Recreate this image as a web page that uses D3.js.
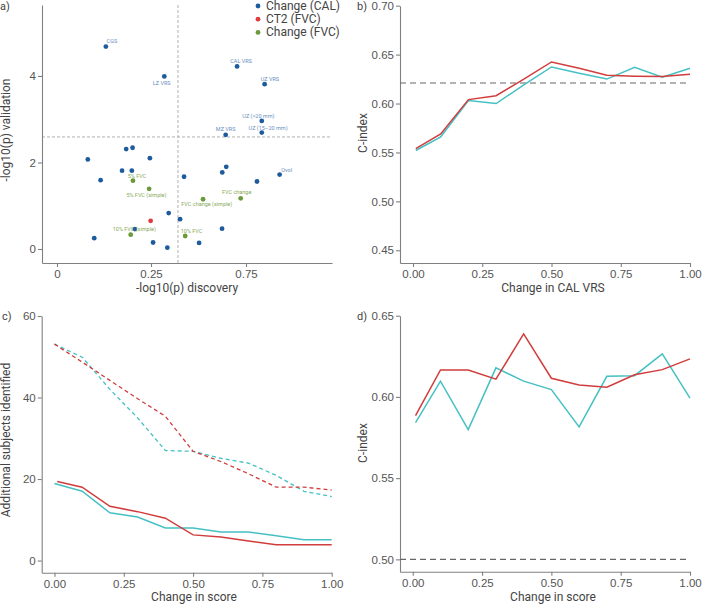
<!DOCTYPE html>
<html><head><meta charset="utf-8">
<script src="https://cdn.jsdelivr.net/npm/d3@7"></script>
<style>
body{margin:0;background:#fff;}
svg{font-family:Roboto,"Noto Sans",sans-serif;}
</style></head><body>
<svg id="chart" width="702" height="604"></svg>
<script>
// ---------- DATA ----------
// Panel a: scatter of -log10(p) discovery vs validation
const legendGroups = ["Change (CAL)", "CT2 (FVC)", "Change (FVC)"];
const calX = [0.130, 0.320, 0.703, 0.848, 0.833, 0.833, 0.643,
  0.082, 0.184, 0.201, 0.247, 0.173, 0.199, 0.116, 0.424, 0.646, 0.625, 0.808, 0.927,
  0.343, 0.403, 0.207, 0.099, 0.261, 0.336, 0.624, 0.503];
const calY = [4.68, 3.99, 4.22, 3.81, 2.96, 2.69, 2.64,
  2.07, 2.31, 2.34, 2.10, 1.81, 1.81, 1.59, 1.67, 1.90, 1.77, 1.56, 1.72,
  0.83, 0.69, 0.46, 0.25, 0.15, 0.03, 0.47, 0.14];
const calLabel = ["CGS", "LZ VRS", "CAL VRS", "UZ VRS", "UZ (>20 mm)", "UZ (15–20 mm)", "MZ VRS",
  "", "", "", "", "", "", "", "", "", "", "", "Ovol",
  "", "", "", "", "", "", "", ""];
const ct2X = [0.249];
const ct2Y = [0.65];
const fvcX = [0.202, 0.245, 0.196, 0.722, 0.524, 0.430];
const fvcY = [1.58, 1.39, 0.33, 1.17, 1.15, 0.30];
const fvcLabel = ["5% FVC", "5% FVC (simple)", "10% FVC (simple)", "FVC change", "FVC change (simple)", "10% FVC"];
const aThresholdX = 0.392;
const aThresholdY = 2.59;
const aXTicks = [0, 0.25, 0.75];
const aXTickLabels = ["0", "0.25", "0.75"];
const aYTicks = [0, 2, 4];

// Panel b
const bX = [0.01, 0.1, 0.2, 0.3, 0.4, 0.5, 0.6, 0.7, 0.8, 0.9, 1.0];
const bRed = [0.554, 0.569, 0.604, 0.608, 0.625, 0.6425, 0.636, 0.629, 0.628, 0.6276, 0.630];
const bCyan = [0.552, 0.566, 0.603, 0.600, 0.619, 0.6374, 0.631, 0.625, 0.637, 0.627, 0.636];
const bRef = 0.621;
const bYTicks = [0.45, 0.50, 0.55, 0.60, 0.65, 0.70];
const unitTicks = [0, 0.25, 0.5, 0.75, 1.0];

// Panel c
const cX = [0, 0.1, 0.2, 0.3, 0.4, 0.5, 0.6, 0.7, 0.8, 0.9, 1.0];
const cXRedSolid = [0.01, 0.1, 0.2, 0.3, 0.4, 0.5, 0.6, 0.7, 0.8, 0.9, 1.0];
const cRedSolid = [19.4, 18.0, 13.3, 12.0, 10.4, 6.3, 5.8, 4.8, 3.9, 3.9, 3.9];
const cCyanSolid = [18.9, 17.0, 11.7, 10.7, 8.0, 8.0, 7.0, 7.0, 6.1, 5.1, 5.1];
const cRedDashed = [53.1, 48.7, 44.2, 39.7, 35.4, 26.8, 24.3, 21.3, 18.0, 18.0, 17.3];
const cCyanDashed = [53.1, 49.9, 42.0, 35.0, 27.0, 26.8, 25.1, 23.9, 20.9, 17.0, 15.7];
const cYTicks = [0, 20, 40, 60];

// Panel d
const dX = [0.01, 0.1, 0.2, 0.3, 0.4, 0.5, 0.6, 0.7, 0.8, 0.9, 1.0];
const dRed = [0.5885, 0.6166, 0.6166, 0.6109, 0.6388, 0.6115, 0.6074, 0.606, 0.6136, 0.6168, 0.6234];
const dCyan = [0.5842, 0.6097, 0.5799, 0.6179, 0.6097, 0.6045, 0.5815, 0.6127, 0.6131, 0.6265, 0.5992];
const dRef = 0.50;
const dYTicks = [0.50, 0.55, 0.60, 0.65];

// ---------- STYLE / LAYOUT ----------
const col = {
  blue: "#1d5b9d", red: "#e03a3a", green: "#6b9a3a",
  blueLab: "#6a8fc0", greenLab: "#8aaa5a",
  lineRed: "#d13c3c", lineCyan: "#45c0c3",
  axis: "#808080", tick: "#555", title: "#444"
};
// label nudges in pixels (dx, dy) relative to point
const labelNudge = {
  "CGS": [6, -5.4], "LZ VRS": [-2.6, 7], "CAL VRS": [4, -5], "UZ VRS": [5.3, -5.3],
  "UZ (>20 mm)": [-3.4, -5.3], "UZ (15–20 mm)": [6.3, -5], "MZ VRS": [0, -5.7], "Ovol": [7, -5],
  "5% FVC": [4, -4.4], "5% FVC (simple)": [-2.7, 5.7], "10% FVC (simple)": [3.6, -5.4],
  "FVC change": [-4, -6.3], "FVC change (simple)": [3.7, 5], "10% FVC": [6.4, -4.7]
};

const svg = d3.select("#chart");

function styleAxis(g) {
  g.selectAll(".domain").attr("stroke", col.axis).attr("stroke-width", 1.1);
  g.selectAll(".tick line").attr("stroke", col.axis).attr("stroke-width", 1.1);
  g.selectAll(".tick text").attr("fill", col.tick).attr("font-size", "11.5px");
}

function drawAxes(x, y, xTicks, xFmt, yTicks, yFmt) {
  const gx = svg.append("g").attr("transform", `translate(0,${y.range()[0]})`)
    .call(d3.axisBottom(x).tickValues(xTicks).tickFormat(xFmt).tickSize(4).tickSizeOuter(0).tickPadding(3));
  styleAxis(gx);
  const gy = svg.append("g").attr("transform", `translate(${x.range()[0]},0)`)
    .call(d3.axisLeft(y).tickValues(yTicks).tickFormat(yFmt).tickSize(4).tickSizeOuter(0).tickPadding(2));
  styleAxis(gy);
}

function titles(panel, px, py, xTitle, xx, xy, yTitle, yx, yy) {
  svg.append("text").attr("x", px).attr("y", py).attr("font-size", "11px").attr("fill", col.title).text(panel);
  svg.append("text").attr("x", xx).attr("y", xy).attr("text-anchor", "middle")
    .attr("font-size", "12px").attr("fill", col.title).text(xTitle);
  svg.append("text").attr("transform", `translate(${yx},${yy}) rotate(-90)`).attr("text-anchor", "middle")
    .attr("font-size", "12px").attr("fill", col.title).text(yTitle);
}

// ---------- PANEL A ----------
{
  const x = d3.scaleLinear().domain([-0.04, 0, 0.25, 0.75, 1.2026]).range([42, 57, 151, 246, 332]);
  const y = d3.scaleLinear().domain([-0.324, 5.64]).range([263, 5]);
  // threshold lines
  svg.append("line").attr("x1", x(aThresholdX)).attr("x2", x(aThresholdX)).attr("y1", y.range()[1]).attr("y2", y.range()[0])
    .attr("stroke", "#b0b0b0").attr("stroke-dasharray", "3,2").attr("stroke-width", 1);
  svg.append("line").attr("x1", x.range()[0]).attr("x2", x.range()[4]).attr("y1", y(aThresholdY)).attr("y2", y(aThresholdY))
    .attr("stroke", "#b0b0b0").attr("stroke-dasharray", "3,2").attr("stroke-width", 1);
  drawAxes(x, y, aXTicks, (d, i) => aXTickLabels[i], aYTicks, d3.format("d"));

  const pts = [];
  calX.forEach((v, i) => pts.push({x: v, y: calY[i], c: col.blue, lc: col.blueLab, label: calLabel[i]}));
  fvcX.forEach((v, i) => pts.push({x: v, y: fvcY[i], c: col.green, lc: col.greenLab, label: fvcLabel[i]}));
  ct2X.forEach((v, i) => pts.push({x: v, y: ct2Y[i], c: col.red, lc: col.red, label: ""}));

  svg.append("g").selectAll("circle").data(pts).join("circle")
    .attr("cx", d => x(d.x)).attr("cy", d => y(d.y)).attr("r", 2.4).attr("fill", d => d.c);
  svg.append("g").selectAll("text").data(pts.filter(d => d.label)).join("text")
    .attr("x", d => x(d.x) + labelNudge[d.label][0]).attr("y", d => y(d.y) + labelNudge[d.label][1])
    .attr("text-anchor", "middle").attr("dominant-baseline", "central")
    .attr("font-size", "5.5px").attr("fill", d => d.lc).text(d => d.label);

  // legend
  const legCols = [col.blue, col.red, col.green];
  const lg = svg.append("g");
  legendGroups.forEach((g, i) => {
    lg.append("circle").attr("cx", 258).attr("cy", 6 + i * 13.2).attr("r", 2.4).attr("fill", legCols[i]);
    lg.append("text").attr("x", 266).attr("y", 6 + i * 13.2).attr("dominant-baseline", "central")
      .attr("font-size", "12px").attr("fill", col.title).text(g);
  });
  titles("a)", 0, 10, "-log10(p) discovery", 187, 292, "-log10(p) validation", 10, 130);
}

function linePath(x, y, xs, ys) {
  return d3.line().x((d, i) => x(xs[i])).y(d => y(d))(ys);
}

// ---------- PANEL B ----------
{
  const x = d3.scaleLinear().domain([-0.047, 1]).range([400, 690]);
  const y = d3.scaleLinear().domain([0.437, 0.70]).range([263, 5.7]);
  drawAxes(x, y, unitTicks, d3.format(".2f"), bYTicks, d3.format(".2f"));
  svg.append("line").attr("x1", x(-0.047)).attr("x2", x(1)).attr("y1", y(bRef)).attr("y2", y(bRef))
    .attr("stroke", "#666").attr("stroke-dasharray", "6,4").attr("stroke-width", 1.1);
  svg.append("path").attr("d", linePath(x, y, bX, bCyan)).attr("fill", "none").attr("stroke", col.lineCyan).attr("stroke-width", 1.5);
  svg.append("path").attr("d", linePath(x, y, bX, bRed)).attr("fill", "none").attr("stroke", col.lineRed).attr("stroke-width", 1.5);
  titles("b)", 357, 10, "Change in CAL VRS", 553, 292, "C-index", 367, 133);
}

// ---------- PANEL C ----------
{
  const x = d3.scaleLinear().domain([-0.046, 1]).range([41.7, 331.7]);
  const y = d3.scaleLinear().domain([-2.98, 60]).range([572.7, 316]);
  drawAxes(x, y, unitTicks, d3.format(".2f"), cYTicks, d3.format("d"));
  svg.append("path").attr("d", linePath(x, y, cX, cCyanDashed)).attr("fill", "none").attr("stroke", col.lineCyan)
    .attr("stroke-width", 1.3).attr("stroke-dasharray", "4,3");
  svg.append("path").attr("d", linePath(x, y, cX, cRedDashed)).attr("fill", "none").attr("stroke", col.lineRed)
    .attr("stroke-width", 1.3).attr("stroke-dasharray", "4,3");
  svg.append("path").attr("d", linePath(x, y, cX, cCyanSolid)).attr("fill", "none").attr("stroke", col.lineCyan).attr("stroke-width", 1.5);
  svg.append("path").attr("d", linePath(x, y, cXRedSolid, cRedSolid)).attr("fill", "none").attr("stroke", col.lineRed).attr("stroke-width", 1.5);
  titles("c)", 2, 320, "Change in score", 194, 601, "Additional subjects identified", 10, 440);
}

// ---------- PANEL D ----------
{
  const x = d3.scaleLinear().domain([-0.046, 1]).range([400, 690]);
  const y = d3.scaleLinear().domain([0.4924, 0.65]).range([571.7, 315.7]);
  drawAxes(x, y, unitTicks, d3.format(".2f"), dYTicks, d3.format(".2f"));
  svg.append("line").attr("x1", x(-0.046)).attr("x2", x(1)).attr("y1", y(dRef)).attr("y2", y(dRef))
    .attr("stroke", "#666").attr("stroke-dasharray", "6,4").attr("stroke-width", 1.1);
  svg.append("path").attr("d", linePath(x, y, dX, dCyan)).attr("fill", "none").attr("stroke", col.lineCyan).attr("stroke-width", 1.5);
  svg.append("path").attr("d", linePath(x, y, dX, dRed)).attr("fill", "none").attr("stroke", col.lineRed).attr("stroke-width", 1.5);
  titles("d)", 357, 320, "Change in score", 553, 601, "C-index", 367, 443);
}
</script>
</body></html>
